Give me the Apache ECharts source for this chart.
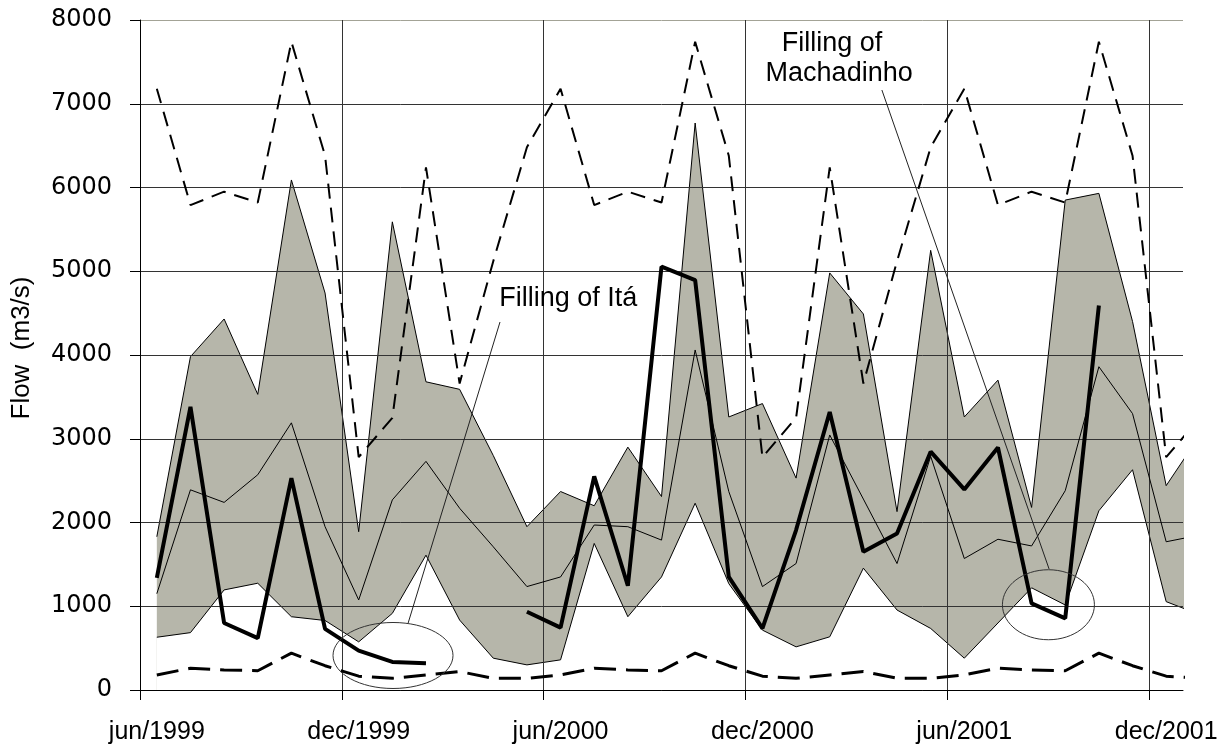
<!DOCTYPE html>
<html>
<head>
<meta charset="utf-8">
<title>Flow</title>
<script src="https://cdn.jsdelivr.net/npm/echarts@6/dist/echarts.min.js"></script>
<style>
  html, body { margin: 0; padding: 0; background: #ffffff; }
  #chart { width: 1229px; height: 751px; }
</style>
</head>
<body>
<div id="chart"></div>
<script>
// Monthly categories; the last one only shows as the clipped tail at the right edge.
const months = [
  'jun/1999', 'jul/1999', 'aug/1999', 'sep/1999', 'oct/1999', 'nov/1999', 'dec/1999',
  'jan/2000', 'feb/2000', 'mar/2000', 'apr/2000', 'may/2000', 'jun/2000', 'jul/2000',
  'aug/2000', 'sep/2000', 'oct/2000', 'nov/2000', 'dec/2000', 'jan/2001', 'feb/2001',
  'mar/2001', 'apr/2001', 'may/2001', 'jun/2001', 'jul/2001', 'aug/2001', 'sep/2001',
  'oct/2001', 'nov/2001', 'dec/2001', 'jan/2002'
];

// Historical monthly maximum and minimum flows (m3/s)
const histMax = [
  7180, 5790, 5950, 5820, 7740, 6380, 2780, 3250, 6240, 3660, 5120, 6480,
  7180, 5790, 5950, 5820, 7740, 6380, 2780, 3250, 6240, 3660, 5120, 6480,
  7180, 5790, 5950, 5820, 7740, 6380, 2780, 3250
];
const histMin = [
  180, 260, 240, 230, 440, 290, 165, 140, 180, 220, 140, 140,
  180, 260, 240, 230, 440, 290, 165, 140, 180, 220, 140, 140,
  180, 260, 240, 230, 440, 290, 165, 140
];

// Forecast range (upper / lower limit) and forecast mean
const bandHigh = [
  1830, 3980, 4430, 3530, 6090, 4740, 1890, 5590, 3680, 3590, 2800, 1950,
  2370, 2200, 2900, 2310, 6770, 3260, 3420, 2530, 4980, 4490, 2130, 5250,
  3260, 3700, 2180, 5850, 5930, 4400, 2440, 3040
];
const bandLow = [
  630, 685, 1195, 1275, 875, 830, 575, 915, 1610, 835, 380, 300,
  360, 1750, 875, 1350, 2230, 1270, 715, 515, 635, 1455, 955, 735,
  380, 800, 1220, 1015, 2140, 2630, 1055, 900
];
const bandMean = [
  1150, 2390, 2240, 2570, 3190, 1950, 1075, 2270, 2730, 2170, 1710, 1235,
  1350, 1970, 1950, 1790, 4060, 2370, 1235, 1510, 3045, 2280, 1510, 2790,
  1570, 1800, 1720, 2380, 3860, 3300, 1770, 1850
];

// Observed flow (gaps where no record exists)
const observed = [
  1340, 3380, 800, 620, 2530, 730, 470, 335, 320, null, null, 935,
  745, 2550, 1245, 5055, 4895, 1350, 736, 1910, 3320, 1650, 1870, 2846,
  2395, 2895, 1035, 856, 4590, null, null, null
];

// Axis ticks
const yTicks = [0, 1000, 2000, 3000, 4000, 5000, 6000, 7000, 8000];
const xLabelEvery = 6;

const FONT = "'Liberation Sans', Arial, sans-serif";
const GRID_DARK = '#333333';
const GRID_EDGE = '#a3a396';

// Each month occupies one unit on the x axis; values sit in the middle of it.
const pts = arr => arr.map((v, i) => [i + 0.5, v]);

const shownMonths = months.length - 1;
const xTickValues = [];
const xLabelValues = [];
for (let m = 0; m < shownMonths; m += xLabelEvery) {
  xTickValues.push(m);
  xLabelValues.push(m + 0.5);
}

const chart = echarts.init(document.getElementById('chart'), null, { renderer: 'canvas' });

const option = {
  animation: false,
  backgroundColor: '#ffffff',
  grid: {
    left: 140, top: 20, width: 1043, height: 670,
    show: false, outerBoundsMode: 'none', containLabel: false
  },
  xAxis: {
    type: 'value',
    min: 0, max: shownMonths, interval: xLabelEvery,
    z: 3,
    axisLine: { show: true, onZero: false, lineStyle: { color: '#000', width: 1 } },
    axisTick: {
      show: true, inside: false, length: 10,
      customValues: xTickValues,
      lineStyle: { color: '#000', width: 1 }
    },
    axisLabel: {
      customValues: xLabelValues,
      formatter: v => months[Math.floor(v)],
      color: '#000', fontFamily: FONT, fontSize: 25, margin: 30
    },
    splitLine: {
      show: true,
      lineStyle: {
        color: xTickValues.map(() => GRID_DARK).concat([GRID_EDGE]),
        width: 1
      }
    }
  },
  yAxis: {
    type: 'value',
    min: yTicks[0], max: yTicks[yTicks.length - 1], interval: yTicks[1] - yTicks[0],
    z: 3,
    axisLine: { show: true, lineStyle: { color: '#000', width: 1 } },
    axisTick: { show: true, inside: false, length: 10, lineStyle: { color: '#000', width: 1 } },
    axisLabel: {
      formatter: v => String(v),
      color: '#000', fontFamily: "'DejaVu Sans', sans-serif", fontSize: 24, margin: 28
    },
    splitLine: {
      show: true,
      lineStyle: {
        color: yTicks.slice(0, -1).map(() => GRID_DARK).concat([GRID_EDGE]),
        width: 1
      }
    }
  },
  series: [
    {
      name: 'upper limit', type: 'line', data: pts(bandHigh),
      symbol: 'none', z: 1,
      lineStyle: { color: '#000', width: 1 },
      areaStyle: { color: '#b6b6aa', opacity: 1 }
    },
    {
      name: 'lower limit', type: 'line', data: pts(bandLow),
      symbol: 'none', z: 1.5,
      lineStyle: { color: '#000', width: 1 },
      areaStyle: { color: '#ffffff', opacity: 1 }
    },
    {
      name: 'mean', type: 'line', data: pts(bandMean),
      symbol: 'none', z: 4,
      lineStyle: { color: '#000', width: 1 }
    },
    {
      name: 'historical max', type: 'line', data: pts(histMax),
      symbol: 'none', z: 4,
      lineStyle: { color: '#000', width: 2, type: [15, 9] }
    },
    {
      name: 'historical min', type: 'line', data: pts(histMin),
      symbol: 'none', z: 4,
      lineStyle: { color: '#000', width: 3, type: [22, 10] }
    },
    {
      name: 'observed', type: 'line', data: pts(observed),
      symbol: 'none', z: 5, connectNulls: false,
      lineStyle: { color: '#000', width: 4 }
    }
  ]
};

chart.setOption(option);

// Annotations, anchored in axis units: [month position, flow]
const itaLabel = { text: 'Filling of Itá', at: [12.73, 4670] };
const itaLeader = [[10.70, 4394], [7.97, 800]];
const itaRing = { center: [7.52, 412], rx: 60, ry: 33 };
const machLabels = [
  { text: 'Filling of', at: [20.57, 7713] },
  { text: 'Machadinho', at: [20.78, 7355] }
];
const machLeader = [[22.05, 7164], [27.02, 1445]];
const machRing = { center: [27.0, 1018], rx: 46, ry: 35 };

const toPx = p => chart.convertToPixel({ gridIndex: 0 }, p);

const noteText = n => {
  const p = toPx(n.at);
  return {
    type: 'text', x: p[0], y: p[1], z: 20,
    style: { text: n.text, fill: '#000', font: '27px ' + FONT, align: 'center', verticalAlign: 'middle' }
  };
};
const leader = seg => {
  const a = toPx(seg[0]), b = toPx(seg[1]);
  return {
    type: 'line', z: 20,
    shape: { x1: a[0], y1: a[1], x2: b[0], y2: b[1] },
    style: { stroke: '#222', lineWidth: 1 }
  };
};
const ring = r => {
  const c = toPx(r.center);
  return {
    type: 'ellipse', z: 20,
    shape: { cx: c[0], cy: c[1], rx: r.rx, ry: r.ry },
    style: { fill: 'none', stroke: '#333', lineWidth: 1 }
  };
};

chart.setOption({
  graphic: [
    {
      type: 'text', x: 22, y: 348, rotation: Math.PI / 2, z: 20,
      style: { text: 'Flow  (m3/s)', fill: '#000', font: '26px ' + FONT, align: 'center', verticalAlign: 'middle' }
    },
    noteText(itaLabel), leader(itaLeader), ring(itaRing),
    noteText(machLabels[0]), noteText(machLabels[1]), leader(machLeader), ring(machRing)
  ]
});
</script>
</body>
</html>
